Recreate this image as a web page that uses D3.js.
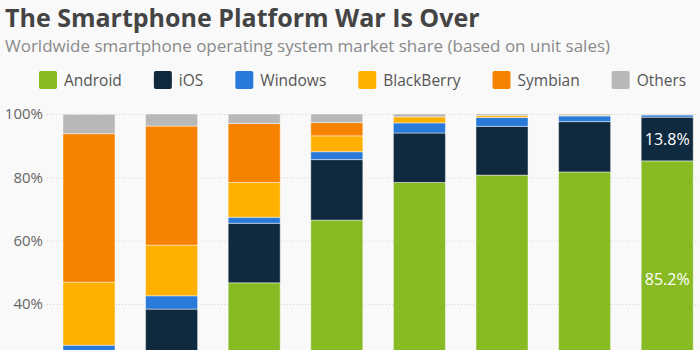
<!DOCTYPE html>
<html>
<head>
<meta charset="utf-8">
<script src="https://cdn.jsdelivr.net/npm/d3@7"></script>
<style>
    body { margin: 0; background: #f9f9f9; overflow: hidden; }
    svg { display: block; font-family: "Open Sans", "Noto Sans", sans-serif; }
</style>
</head>
<body>
<script>
(function(){

//categories and series (market share in %)
var years = ["2009", "2010", "2011", "2012", "2013", "2014", "2015", "2016"];
var android    = [3.9, 22.7, 46.7, 66.5, 78.4, 80.7, 81.7, 85.2];
var ios        = [14.4, 15.7, 18.8, 19.1, 15.6, 15.4, 15.9, 13.8];
var windows    = [8.7, 4.2, 1.9, 2.5, 3.2, 2.8, 1.8, 0.7];
var blackberry = [19.9, 16.0, 11.0, 5.0, 1.9, 0.6, 0.2, 0.1];
var symbian    = [46.9, 37.6, 18.6, 4.2, 0.0, 0.0, 0.0, 0.0];
var others     = [6.1, 3.8, 3.0, 2.7, 0.9, 0.5, 0.4, 0.2];

var seriesNames = ["Android", "iOS", "Windows", "BlackBerry", "Symbian", "Others"];
var seriesValues = [android, ios, windows, blackberry, symbian, others];
//only the ticks that fall inside the cropped frame
var yTicks = [40, 60, 80, 100];

//only the latest year gets value labels
var labelYear = "2016",
    labelSeries = ["Android", "iOS"];

var colors = ["#88ba24", "#0f2a3e", "#2a7ad9", "#ffb000", "#f78200", "#b8b8b8"];

//frame
var width = 700,
    height = 350;

var svg = d3.select("body")
    .append("svg")
    .attr("width", width)
    .attr("height", height);

//build rows for the stack
var rows = years.map(function(yr, i){
    var row = {year: yr};
    seriesNames.forEach(function(name, s){
        row[name] = seriesValues[s][i];
    });
    return row;
});

var stacked = d3.stack().keys(seriesNames)(rows);

//scales (the chart is cropped at the bottom, 0% sits below the frame)
var x = d3.scaleBand()
    .domain(years)
    .range([47.7, 708.5])
    .paddingInner(0.37)
    .paddingOuter(0.185);

var y = d3.scaleLinear()
    .domain([0, 100])
    .range([430.7, 114]);

var color = d3.scaleOrdinal()
    .domain(seriesNames)
    .range(colors);

//title + subtitle
svg.append("text")
    .attr("x", 5)
    .attr("y", 27)
    .style("font-size", "25px")
    .style("font-weight", "bold")
    .style("fill", "#444")
    .text("The Smartphone Platform War Is Over");

svg.append("text")
    .attr("x", 5)
    .attr("y", 52)
    .style("font-size", "17px")
    .style("fill", "#8a8a8a")
    .text("Worldwide smartphone operating system market share (based on unit sales)");

//legend
var legend = svg.append("g").attr("class", "legend");
var lx = 39;
seriesNames.forEach(function(name){
    var item = legend.append("g").attr("transform", "translate(" + lx + ",71)");
    item.append("rect")
        .attr("width", 18)
        .attr("height", 18)
        .attr("rx", 2)
        .style("fill", color(name));
    var t = item.append("text")
        .attr("x", 25)
        .attr("y", 15)
        .style("font-size", "15.5px")
        .style("fill", "#555")
        .text(name);
    lx += 25 + t.node().getComputedTextLength() + 32;
});

//y axis: dotted gridlines + labels
var yAxis = d3.axisLeft(y)
    .tickValues(yTicks)
    .tickSize(-(width - 47))
    .tickPadding(4)
    .tickFormat(function(d){ return d + "%"; });

var axisG = svg.append("g")
    .attr("class", "y-axis")
    .attr("transform", "translate(47,0)")
    .call(yAxis);

axisG.select(".domain").remove();
axisG.selectAll(".tick line")
    .style("stroke", "#d4d4d4")
    .style("stroke-dasharray", "1,2");
axisG.selectAll(".tick text")
    .style("font-size", "15px")
    .style("fill", "#666")
    .style("font-family", "\"Open Sans\", \"Noto Sans\", sans-serif");

//stacked bars
var layers = svg.selectAll(".layer")
    .data(stacked)
    .enter()
    .append("g")
    .attr("class", "layer")
    .style("fill", function(d){ return color(d.key); });

layers.selectAll("rect")
    .data(function(d){ return d; })
    .enter()
    .append("rect")
    .attr("x", function(d){ return x(d.data.year); })
    .attr("y", function(d){ return y(d[1]); })
    .attr("width", x.bandwidth())
    .attr("height", function(d){ return Math.max(0, y(d[0]) - y(d[1])); })
    .style("stroke", "#fff")
    .style("stroke-opacity", 0.45)
    .style("stroke-width", 1);

//value labels on the last bar
stacked.forEach(function(layer){
    if (labelSeries.indexOf(layer.key) < 0) return;
    var d = layer[years.indexOf(labelYear)];
    var mid = y((d[0] + d[1]) / 2);
    //the android label sits higher since its bar runs off the bottom
    if (layer.key == "Android") mid -= 16.5;
    svg.append("text")
        .attr("x", x(labelYear) + x.bandwidth() / 2)
        .attr("y", mid)
        .attr("dy", "0.35em")
        .attr("text-anchor", "middle")
        .style("font-size", "16px")
        .style("fill", "#fff")
        .text(d3.format(".1f")(d.data[layer.key]) + "%");
});

})();
</script>
</body>
</html>
